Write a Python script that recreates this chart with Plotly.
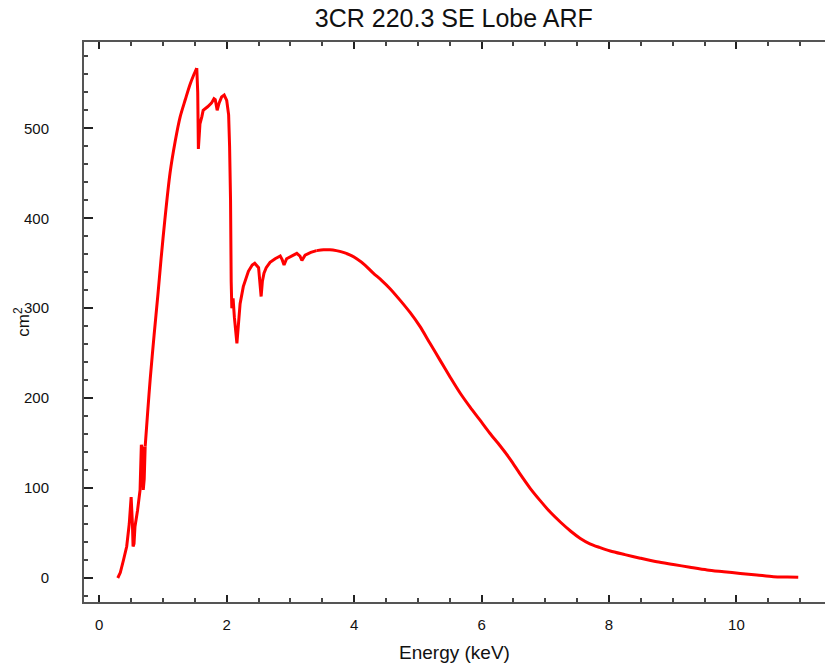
import plotly.graph_objects as go

energy_kev = [0.29, 0.33, 0.38, 0.43, 0.47, 0.49, 0.50, 0.52, 0.53, 0.545, 0.56, 0.60, 0.64,
              0.66, 0.675, 0.69, 0.705, 0.72, 0.76, 0.80, 0.86, 0.92, 0.97, 1.03, 1.11, 1.19,
              1.27, 1.35, 1.42, 1.48, 1.53, 1.545, 1.555, 1.565, 1.58, 1.61, 1.63, 1.70, 1.76,
              1.80, 1.82, 1.85, 1.88, 1.92, 1.96, 2.00, 2.03, 2.045, 2.06, 2.07, 2.08, 2.10,
              2.12, 2.16, 2.19, 2.21, 2.26, 2.30, 2.34, 2.40, 2.44, 2.50, 2.53, 2.54, 2.56,
              2.585, 2.62, 2.68, 2.76, 2.84, 2.87, 2.90, 2.94, 3.02, 3.10, 3.15, 3.18, 3.23,
              3.32, 3.41, 3.52, 3.62, 3.72, 3.83, 3.94, 4.04, 4.17, 4.30, 4.43, 4.56, 4.72,
              4.88, 5.03, 5.19, 5.35, 5.51, 5.66, 5.82, 5.97, 6.13, 6.29, 6.45, 6.60, 6.76,
              6.92, 7.08, 7.24, 7.40, 7.55, 7.70, 7.85, 8.02, 8.25, 8.49, 8.75, 9.01, 9.27,
              9.54, 9.80, 10.06, 10.32, 10.58, 10.80, 10.97]
area_cm2 = [0, 6, 20, 35, 60, 88, 90, 60, 35, 38, 57, 75, 98,
            148, 145, 98, 110, 146, 185, 222, 270, 315, 355, 399, 450, 485,
            513, 532, 548, 559, 567, 540, 477, 490, 505, 513, 520, 524, 528,
            533, 532, 520, 528, 535, 537, 531, 515, 480, 420, 330, 300, 311,
            290, 261, 290, 305, 324, 333, 341, 348, 350, 345, 320, 313, 330,
            339, 345, 351, 355, 358, 354, 348, 355, 358, 361, 358, 353, 359,
            362, 364, 365, 365, 364, 362, 359, 355, 348, 339, 331, 322, 309,
            295, 280, 261, 242, 223, 206, 190, 176, 161, 147, 132, 116, 100,
            86, 73, 62, 52, 44, 38, 34, 30, 26, 22, 18, 15, 12,
            9, 7, 5, 3.3, 1.5, 1.0, 0.7]

x_tick_vals = [0, 2, 4, 6, 8, 10]
y_tick_vals = [0, 100, 200, 300, 400, 500]

FONT = "Liberation Sans, Arial, Helvetica, sans-serif"

# split index: edges region drawn linear, smooth regions drawn as spline
i_a = energy_kev.index(0.72)
i_b = energy_kev.index(1.53)
i_c = energy_kev.index(3.41)

segments = [
    (0, i_a + 1, "linear"),
    (i_a, i_b + 1, "spline"),
    (i_b, i_c + 1, "linear"),
    (i_c, len(energy_kev), "spline"),
]

fig = go.Figure()
for s, e, shape in segments:
    fig.add_trace(go.Scatter(x=energy_kev[s:e], y=area_cm2[s:e], mode="lines",
                             line=dict(color="#ff0000", width=3, shape=shape, smoothing=0.8),
                             showlegend=False))

fig.update_layout(
    width=825, height=664,
    margin=dict(l=84, r=0, t=42, b=62),
    paper_bgcolor="white", plot_bgcolor="white",
    font=dict(family=FONT, color="#111111", size=15),
    title=dict(text="3CR 220.3 SE Lobe ARF", x=0.55, xanchor="center",
               y=0.973, yanchor="middle", font=dict(size=25, family=FONT, color="#111111")),
    annotations=[dict(text="cm<sup>2</sup>", xref="paper", yref="paper",
                      x=-0.084, y=0.5, xanchor="center", yanchor="middle",
                      textangle=-90, showarrow=False,
                      font=dict(size=17, family=FONT, color="#111111"))],
)
fig.update_xaxes(
    range=[-0.24, 11.39], tickvals=x_tick_vals, ticks="inside", ticklen=7, tickwidth=1.5,
    tickcolor="#222", showline=True, linecolor="#555", linewidth=2, mirror="allticks",
    showgrid=False, zeroline=False, ticklabelstandoff=8,
    minor=dict(dtick=0.5, ticks="inside", ticklen=4, tickwidth=1.5, tickcolor="#444"),
    title=dict(text="Energy (keV)", font=dict(size=19, family=FONT), standoff=14),
)
fig.update_yaxes(
    range=[-26.7, 596], tickvals=y_tick_vals, ticks="inside", ticklen=9, tickwidth=1.5,
    tickcolor="#222", showline=True, linecolor="#555", linewidth=2, mirror=False,
    showgrid=False, zeroline=False, ticklabelstandoff=30,
    minor=dict(dtick=20, ticks="inside", ticklen=4, tickwidth=1.5, tickcolor="#444"),
)

fig.write_html("out.html")
